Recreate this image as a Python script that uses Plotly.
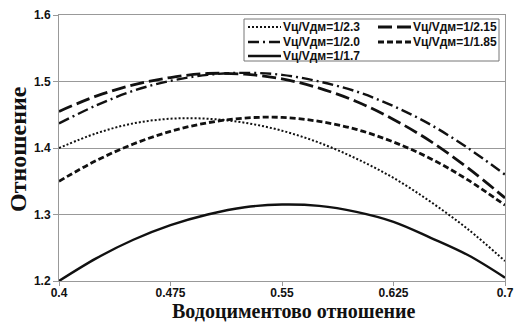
import plotly.graph_objects as go

# Data
x_vals = [0.4, 0.425, 0.45, 0.475, 0.5, 0.525, 0.55, 0.575, 0.6, 0.625, 0.65, 0.675, 0.7]
s_2_3 = [1.400, 1.422, 1.437, 1.444, 1.444, 1.438, 1.426, 1.408, 1.384, 1.355, 1.319, 1.278, 1.230]
s_2_15 = [1.455, 1.478, 1.495, 1.506, 1.512, 1.511, 1.504, 1.490, 1.470, 1.443, 1.410, 1.370, 1.325]
s_2_0 = [1.437, 1.464, 1.486, 1.501, 1.510, 1.513, 1.510, 1.500, 1.485, 1.463, 1.435, 1.400, 1.360]
s_1_85 = [1.350, 1.381, 1.406, 1.425, 1.438, 1.445, 1.446, 1.440, 1.428, 1.409, 1.384, 1.352, 1.314]
s_1_7 = [1.200, 1.234, 1.262, 1.284, 1.300, 1.311, 1.315, 1.313, 1.304, 1.289, 1.265, 1.239, 1.205]

names = ["Vц/Vдм=1/2.3", "Vц/Vдм=1/2.15", "Vц/Vдм=1/2.0", "Vц/Vдм=1/1.85", "Vц/Vдм=1/1.7"]
x_ticks = [0.4, 0.475, 0.55, 0.625, 0.7]
y_ticks = [1.2, 1.3, 1.4, 1.5, 1.6]
x_title = "Водоциментово отношение"
y_title = "Отношение"

series = [s_2_3, s_2_15, s_2_0, s_1_85, s_1_7]
styles = [
    dict(dash="2px,2px", width=2.0),
    dict(dash="14px,5px", width=2.8),
    dict(dash="11px,4px,2px,4px", width=2.4),
    dict(dash="6px,3px", width=2.8),
    dict(dash="solid", width=2.4),
]
INK = "#111111"

fig = go.Figure()
for name, ys, st in zip(names, series, styles):
    fig.add_trace(go.Scatter(
        x=x_vals, y=ys, mode="lines", name=name, showlegend=False,
        line=dict(color=INK, width=st["width"], dash=st["dash"], shape="spline", smoothing=1.0),
    ))

W, H = 514, 322
ML, MR, MT, MB = 59, 9, 15, 41
PW, PH = W - ML - MR, H - MT - MB


def px(xp):
    return (xp - ML) / PW


def py(yp):
    return (H - MB - yp) / PH


# Manual legend (two columns, three rows) inside a framed box
shapes = [dict(type="rect", xref="paper", yref="paper",
               x0=px(244), x1=px(499), y0=py(61), y1=py(19),
               line=dict(color="#777777", width=1), fillcolor="white", layer="above")]
annotations = []
legend_pos = [(248, 27), (378, 27), (248, 42), (378, 42), (248, 56)]
for (lx, ly), name, st in zip(legend_pos, names, styles):
    shapes.append(dict(type="line", xref="paper", yref="paper",
                       x0=px(lx), x1=px(lx + 33), y0=py(ly), y1=py(ly),
                       line=dict(color=INK, width=st["width"], dash=st["dash"]), layer="above"))
    annotations.append(dict(xref="paper", yref="paper", x=px(lx + 33), y=py(ly),
                            xanchor="left", yanchor="middle", text=name, showarrow=False,
                            font=dict(family="Liberation Sans, Arial", size=12, color=INK,
                                      weight="bold")))

title_font = dict(family="Liberation Serif, Times New Roman", color=INK, weight="bold")
annotations.append(dict(xref="paper", yref="paper", x=px(294), y=py(311),
                        xanchor="center", yanchor="middle", text=x_title, showarrow=False,
                        font=dict(size=20, **title_font)))
annotations.append(dict(xref="paper", yref="paper", x=px(18), y=py(149),
                        xanchor="center", yanchor="middle", text=y_title, showarrow=False,
                        textangle=-90, font=dict(size=24, **title_font)))

tickfont = dict(family="Liberation Sans, Arial", size=12, color=INK, weight="bold")

fig.update_layout(
    width=W, height=H,
    margin=dict(l=ML, r=MR, t=MT, b=MB, autoexpand=False),
    paper_bgcolor="white", plot_bgcolor="white",
    shapes=shapes, annotations=annotations,
    font=dict(family="Liberation Sans, Arial", color=INK),
    xaxis=dict(
        range=[0.4, 0.7], tickvals=x_ticks, ticktext=[str(v) for v in x_ticks],
        showgrid=False, zeroline=False, automargin=False,
        showline=True, linecolor="#999999", linewidth=1, mirror=True,
        ticks="outside", ticklen=4, tickcolor="#999999",
        tickfont=tickfont, ticklabeloverflow="allow", ticklabelstandoff=-3,
    ),
    yaxis=dict(
        range=[1.2, 1.6], tickvals=y_ticks, ticktext=[f"{v:.1f}" for v in y_ticks],
        showgrid=True, gridcolor="#999999", gridwidth=1, zeroline=False, automargin=False,
        showline=True, linecolor="#999999", linewidth=1, mirror=True,
        ticks="outside", ticklen=5, tickcolor="#999999",
        tickfont=tickfont,
    ),
)

fig.write_html("out.html", config={"displayModeBar": False},
               post_script="document.body.style.margin='0';")
